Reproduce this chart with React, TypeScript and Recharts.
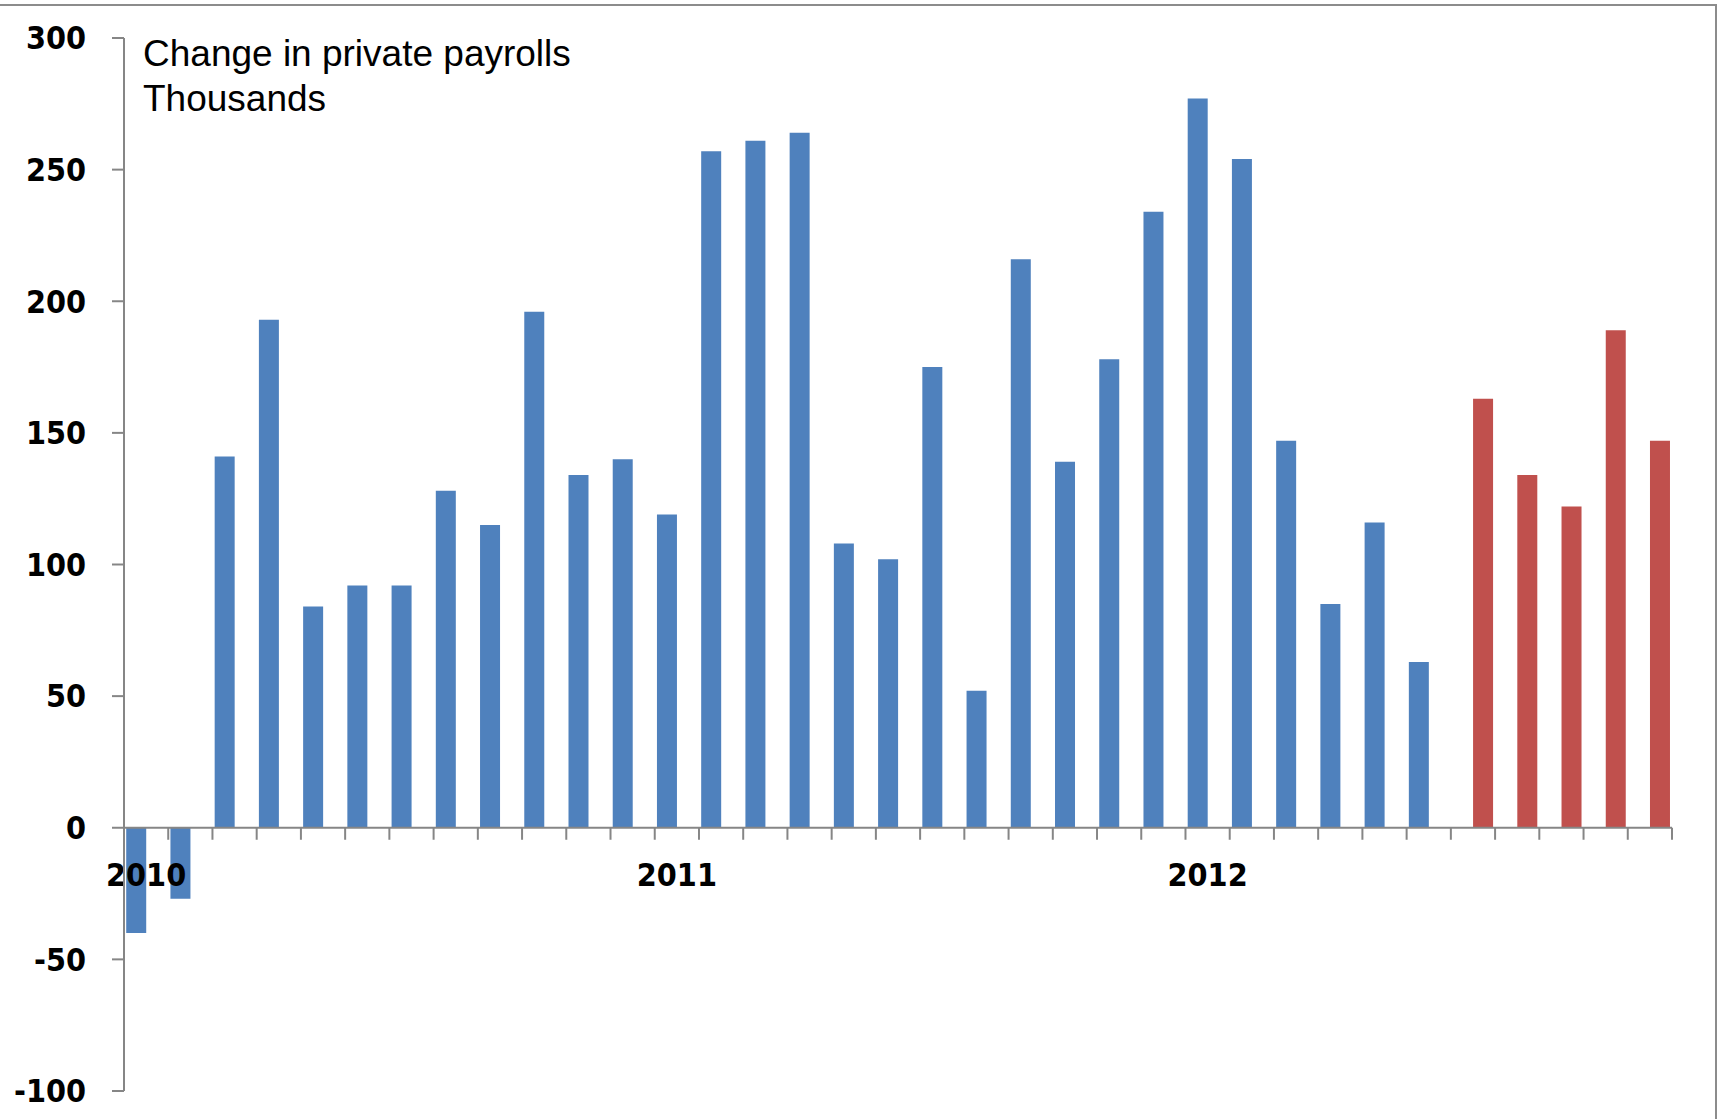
import React from 'react';
import { BarChart, Bar, XAxis, YAxis, ReferenceLine } from 'recharts';

// Monthly change in private payrolls, thousands (Jan 2010 - Nov 2012)
const months = [
  'Jan 2010', 'Feb 2010', 'Mar 2010', 'Apr 2010', 'May 2010', 'Jun 2010',
  'Jul 2010', 'Aug 2010', 'Sep 2010', 'Oct 2010', 'Nov 2010', 'Dec 2010',
  'Jan 2011', 'Feb 2011', 'Mar 2011', 'Apr 2011', 'May 2011', 'Jun 2011',
  'Jul 2011', 'Aug 2011', 'Sep 2011', 'Oct 2011', 'Nov 2011', 'Dec 2011',
  'Jan 2012', 'Feb 2012', 'Mar 2012', 'Apr 2012', 'May 2012', 'Jun 2012',
  'Jul 2012', 'Aug 2012', 'Sep 2012', 'Oct 2012', 'Nov 2012',
];

const earlier = [
  -40, -27, 141, 193, 84, 92, 92, 128, 115, 196, 134, 140,
  119, 257, 261, 264, 108, 102, 175, 52, 216, 139, 178, 234,
  277, 254, 147, 85, 116, 63, null, null, null, null, null,
];

const recent = [
  null, null, null, null, null, null, null, null, null, null, null, null,
  null, null, null, null, null, null, null, null, null, null, null, null,
  null, null, null, null, null, null, 163, 134, 122, 189, 147,
];

const yearStarts = ['Jan 2010', 'Jan 2011', 'Jan 2012'];
const yearLabels = ['2010', '2011', '2012'];
const yTicks = [-100, -50, 0, 50, 100, 150, 200, 250, 300];

const data = months.map((m, i) => ({ month: m, earlier: earlier[i], recent: recent[i] }));

const AXIS = '#868686';
const TICK_FONT = "'DejaVu Sans Condensed', 'DejaVu Sans', sans-serif";

// draws the category axis along the zero line (Excel style: ticks between months, years under January)
const ZeroAxis = (props: any) => {
  const vb = props.viewBox;
  if (!vb) return null;
  const n = months.length;
  const step = vb.width / n;
  return (
    <g>
      {months.map((_, i) => (
        <line key={i} x1={vb.x + step * (i + 1)} x2={vb.x + step * (i + 1)} y1={vb.y} y2={vb.y + 12} stroke={AXIS} strokeWidth={2} />
      ))}
      {yearStarts.map((m, i) => (
        <text
          key={m}
          x={vb.x + step * (months.indexOf(m) + 0.5)}
          y={vb.y + 47}
          textAnchor="middle"
          dominantBaseline="central"
          fontFamily={TICK_FONT}
          fontWeight="bold"
          fontSize={32}
          fill="#000"
        >
          {yearLabels[i]}
        </text>
      ))}
    </g>
  );
};

export default function App() {
  return (
    <div style={{ position: 'absolute', left: 0, top: 0, width: 1721, height: 1119, background: '#fff', overflow: 'hidden' }}>
      <div style={{ position: 'absolute', left: 0, top: 4, width: 1717, height: 2, background: '#8c8c8c' }} />
      <div style={{ position: 'absolute', left: 1715, top: 4, width: 2, height: 1115, background: '#8c8c8c' }} />
      <BarChart
        width={1721}
        height={1119}
        data={data}
        margin={{ top: 38, right: 49, bottom: 28, left: 0 }}
        barCategoryGap="5%"
        barGap={0}
      >
        <XAxis dataKey="month" hide />
        <YAxis
          width={124}
          domain={[-100, 300]}
          ticks={yTicks}
          interval={0}
          tickSize={12}
          tickMargin={26}
          axisLine={{ stroke: AXIS, strokeWidth: 2 }}
          tickLine={{ stroke: AXIS, strokeWidth: 2 }}
          tick={{ fill: '#000', fontSize: 32, fontWeight: 'bold', fontFamily: TICK_FONT }}
        />
        <Bar dataKey="earlier" fill="#4F81BD" isAnimationActive={false} />
        <Bar dataKey="recent" fill="#C0504D" isAnimationActive={false} />
        <ReferenceLine y={0} stroke={AXIS} strokeWidth={2} label={<ZeroAxis />} />
      </BarChart>
      <div
        style={{
          position: 'absolute',
          left: 143,
          top: 31,
          fontFamily: "'Liberation Sans', Arial, sans-serif",
          fontSize: 37,
          lineHeight: '45px',
          color: '#000',
          whiteSpace: 'nowrap',
        }}
      >
        <div>Change in private payrolls</div>
        <div>Thousands</div>
      </div>
    </div>
  );
}
